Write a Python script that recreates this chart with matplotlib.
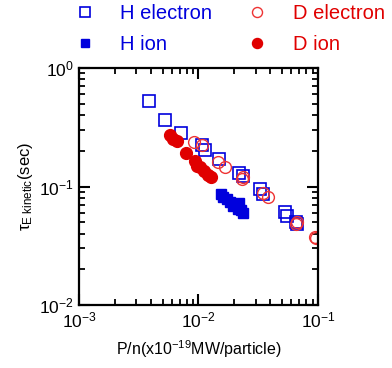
import matplotlib; matplotlib.use("Agg")
import matplotlib.pyplot as plt
from matplotlib.ticker import LogLocator, NullFormatter

plt.rcParams["font.family"] = ["Liberation Sans", "DejaVu Sans"]
plt.rcParams["mathtext.fontset"] = "custom"
plt.rcParams["mathtext.rm"] = "Liberation Sans"
plt.rcParams["mathtext.it"] = "Liberation Sans:italic"
plt.rcParams["mathtext.default"] = "regular"

# P/n (x1e-19 MW/particle) vs tau_E kinetic (sec)
h_el_x = [0.00387, 0.00521, 0.0071, 0.0107, 0.0114, 0.0148, 0.0217, 0.0234, 0.0327, 0.0345, 0.0532, 0.0553, 0.0655, 0.0663]
h_el_y = [0.530, 0.364, 0.281, 0.223, 0.203, 0.172, 0.131, 0.123, 0.0947, 0.0865, 0.061, 0.0564, 0.0502, 0.0483]
d_el_x = [0.00916, 0.0108, 0.0146, 0.0168, 0.0234, 0.0231, 0.0348, 0.0382, 0.0663, 0.0655, 0.0948, 0.096]
d_el_y = [0.2375, 0.2253, 0.161, 0.147, 0.121, 0.115, 0.0877, 0.081, 0.0502, 0.0487, 0.0377, 0.0367]
h_ion_x = [0.0154, 0.0161, 0.0173, 0.0184, 0.0193, 0.0206, 0.0220, 0.0214, 0.0228, 0.0237]
h_ion_y = [0.0865, 0.082, 0.0789, 0.074, 0.0684, 0.0702, 0.0722, 0.065, 0.0633, 0.0601]
d_ion_x = [0.00578, 0.00616, 0.00665, 0.00786, 0.00929, 0.00966, 0.0103, 0.0111, 0.0119, 0.0128]
d_ion_y = [0.274, 0.253, 0.241, 0.191, 0.165, 0.149, 0.147, 0.136, 0.126, 0.120]

BLUE, RED = "#0000dd", "#e00000"

fig = plt.figure(figsize=(3.92, 3.68), dpi=100)
ax = fig.add_axes([0.2015, 0.1712, 0.6097, 0.644])

he, = ax.plot(h_el_x, h_el_y, "s", ms=8, mfc="none", mec=BLUE, mew=1.2, label="H electron")
hi, = ax.plot(h_ion_x, h_ion_y, "s", ms=7.5, mfc=BLUE, mec=BLUE, label="H ion")
de, = ax.plot(d_el_x, d_el_y, "o", ms=8.5, mfc="none", mec="#ee3333", mew=1.0, label="D electron")
di, = ax.plot(d_ion_x, d_ion_y, "o", ms=8.5, mfc=RED, mec=RED, label="D ion")

ax.set_xscale("log"); ax.set_yscale("log")
ax.set_xlim(1e-3, 1e-1); ax.set_ylim(1e-2, 1e0)
for a in (ax.xaxis, ax.yaxis):
    a.set_major_locator(LogLocator(base=10, numticks=10))
    a.set_minor_locator(LogLocator(base=10, subs=range(2, 10), numticks=10))
    a.set_minor_formatter(NullFormatter())
ax.tick_params(which="both", direction="in", top=True, right=True, labelsize=12.5, width=1.5)
ax.tick_params(which="major", length=8, pad=4)
ax.tick_params(which="minor", length=4.5, width=1.3)
for s in ax.spines.values():
    s.set_linewidth(1.6)

ax.set_xlabel(r"P/n(x10$^{-19}$MW/particle)", fontsize=11.5, labelpad=6)
ax.set_ylabel(r"$\mathregular{\tau_{E\ kinetic}}$(sec)", fontsize=12, labelpad=3)

leg = fig.legend(handles=[he, hi, de, di], loc="upper left", bbox_to_anchor=(0.191, 0.988),
                 ncol=2, frameon=False, fontsize=14.5, handlelength=1.0, handletextpad=1.25,
                 columnspacing=1.75, labelspacing=0.58, borderpad=0, borderaxespad=0,
                 markerscale=0.85)
for t, c in zip(leg.get_texts(), [BLUE, BLUE, RED, RED]):
    t.set_color(c)

fig.savefig("out.png", dpi=100)
